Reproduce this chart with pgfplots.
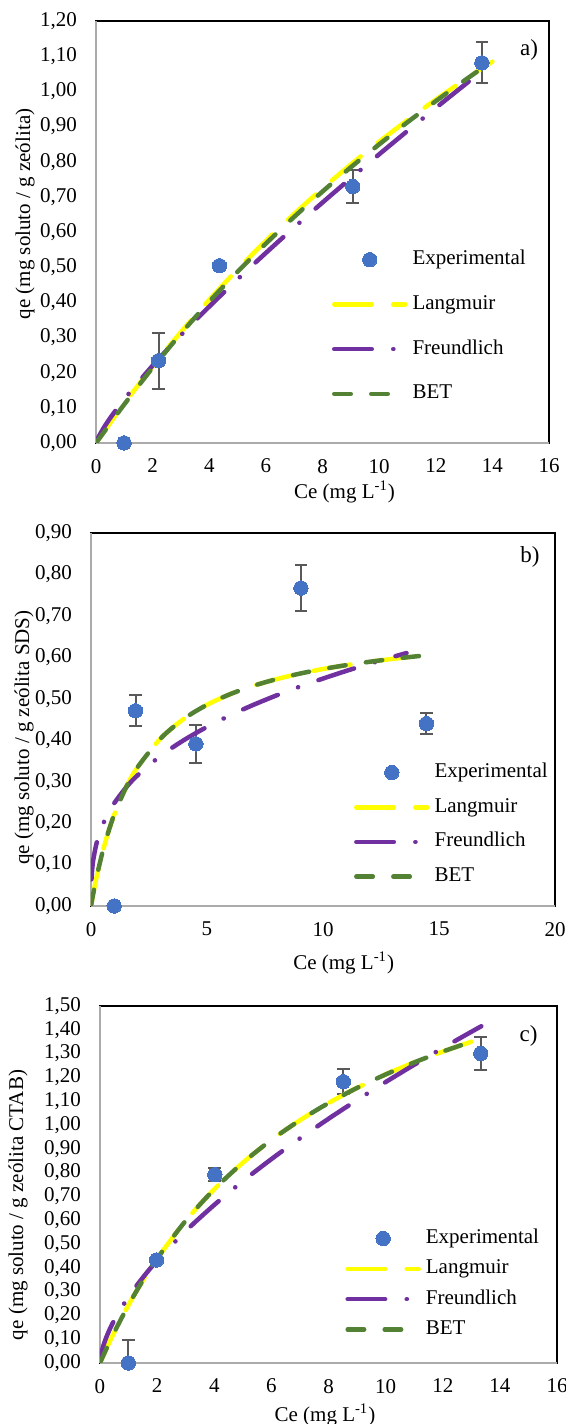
\documentclass[border=0pt]{standalone}
\usepackage{fontspec}
\setmainfont{Liberation Serif}
\usepackage{pgfplots}
\pgfplotsset{compat=1.18}
\definecolor{cexp}{HTML}{4472C4}
\definecolor{clang}{HTML}{FFFF00}
\definecolor{cfreu}{HTML}{7030A0}
\definecolor{cbet}{HTML}{548235}
\definecolor{cerr}{HTML}{595959}
\definecolor{caxis}{HTML}{ABABAB}
\pgfplotsset{
  myaxis/.style={
    scale only axis,
    axis lines*=left,
    axis line style={caxis, line width=1.1pt},
    axis background/.style={draw=black, line width=1.2pt},
    major tick length=0pt,
    minor tick num=0,
    tick style={draw=none},
    /pgf/number format/assume math mode=true,
    yticklabel style={/pgf/number format/fixed, /pgf/number format/fixed zerofill, /pgf/number format/precision=2, /pgf/number format/use comma, xshift=-6pt},
    xticklabel style={/pgf/number format/fixed, /pgf/number format/precision=0, yshift=-4.5pt},
    legend cell align=left,
    clip=true,
  },
  expstyle/.style={only marks, mark=*, mark size=3.6pt, mark options={fill=cexp, draw=cexp, line width=0pt},
    error bars/y dir=both, error bars/y explicit,
    error bars/error bar style={cerr, line width=1pt},
    error bars/error mark options={cerr, rotate=90, mark size=3.2pt, line width=1pt}},
  langstyle/.style={no marks, smooth, clang, line width=2.25pt, line cap=round, dash pattern=on 18.75pt off 10.75pt},
  freustyle/.style={no marks, smooth, cfreu, line width=2.25pt, line cap=round, dash pattern=on 18.75pt off 10.75pt on 0.1pt off 10.75pt},
  betstyle/.style={no marks, smooth, cbet, line width=2.25pt, line cap=round, dash pattern=on 8.25pt off 10.25pt},
  expleg/.style={legend image code/.code={\draw[##1] plot coordinates {(17.75pt,0pt)};}},
  lineleg/.style={legend image code/.code={\draw[##1] (0pt,0pt) -- (35.5pt,0pt);}},
}
\begin{document}
\begin{tikzpicture}[font=\fontsize{10.5}{12.6}\selectfont]
\useasboundingbox (0,0) rectangle (283pt,712pt);
% ---------------- a ----------------
\begin{axis}[myaxis,
  at={(48pt,490.5pt)}, anchor=south west,
  width=226.5pt, height=211pt,
  xmin=0, xmax=16, ymin=0, ymax=1.2,
  xtick={0,2,4,6,8,10,12,14,16},
  ytick={0,0.1,0.2,0.3,0.4,0.5,0.6,0.7,0.8,0.9,1.0,1.1,1.2},
  xlabel={Ce (mg L\textsuperscript{-1})},
  ylabel={qe (mg soluto / g zeólita)},
  xlabel style={at={(axis description cs:0.5486,-0.115)}, anchor=center},
  ylabel style={at={(axis description cs:-0.1567,0.5427)}, anchor=center},
  legend style={draw=none, fill=none, at={(axis description cs:0.521,0.458)}, anchor=north west,
    inner sep=0pt, outer sep=0pt, row sep=12.35pt, column sep=2.5pt,
    nodes={inner sep=0pt, text height=7.5pt, text depth=2.5pt}},
]
\addplot+[expstyle, expleg] coordinates {
 (0.99,0.000) +- (0,0.002)
 (2.21,0.234) +- (0,0.080)
 (4.36,0.504) +- (0,0.002)
 (9.07,0.729) +- (0,0.046)
 (13.63,1.081) +- (0,0.058)
};
\addlegendentry{Experimental}
\addplot[langstyle, lineleg] coordinates {
 (0,0) (0.5,0.0572) (1,0.1125) (2,0.2174) (3,0.3154) (4,0.4073) (5,0.4936) (6,0.5748)
 (7,0.6514) (8,0.7236) (9,0.7919) (10,0.8566) (11,0.9180) (12,0.9763) (13,1.0317) (14,1.0844)
};
\addlegendentry{Langmuir}
\addplot[freustyle, lineleg] coordinates {
 (0.0,0.0) (0.05,0.0108) (0.25,0.0401) (0.5,0.0708) (1,0.1248) (2,0.2200) (3,0.3066) (4,0.3879)
 (5,0.4655) (6,0.5405) (7,0.6130) (8,0.6838) (9,0.7529) (10,0.8208) (11,0.8873)
 (12,0.9527) (13,1.0172) (13.6,1.0556)
};
\addlegendentry{Freundlich}
\addplot[betstyle, lineleg] coordinates {
 (0,0) (0.5,0.055) (1,0.110) (2,0.214) (3,0.311) (4,0.402) (5,0.487) (6,0.567)
 (7,0.643) (8,0.715) (9,0.784) (10,0.849) (11,0.912) (12,0.972) (13,1.030) (13.8,1.075)
};
\addlegendentry{BET}
\end{axis}
% ---------------- b ----------------
\begin{axis}[myaxis,
  at={(45.5pt,259pt)}, anchor=south west,
  width=232pt, height=186.5pt,
  xmin=0, xmax=20, ymin=0, ymax=0.9,
  xtick={0,5,10,15,20},
  ytick={0,0.1,0.2,0.3,0.4,0.5,0.6,0.7,0.8,0.9},
  xlabel={Ce (mg L\textsuperscript{-1})},
  ylabel={qe (mg soluto / g zeólita SDS)},
  xlabel style={at={(axis description cs:0.5446,-0.1528)}, anchor=center},
  ylabel style={at={(axis description cs:-0.1444,0.4517)}, anchor=center},
  legend style={draw=none, fill=none, at={(axis description cs:0.567,0.3845)}, anchor=north west,
    inner sep=0pt, outer sep=0pt, row sep=7.35pt, column sep=2.5pt,
    nodes={inner sep=0pt, text height=7.5pt, text depth=2.5pt}},
]
\addplot+[expstyle, expleg] coordinates {
 (1.00,0.000) +- (0,0.002)
 (1.92,0.471) +- (0,0.037)
 (4.52,0.391) +- (0,0.045)
 (9.05,0.767) +- (0,0.056)
 (14.46,0.440) +- (0,0.025)
};
\addlegendentry{Experimental}
\addplot[langstyle, lineleg] coordinates {
 (0,0) (0.1,0.0308) (0.25,0.0721) (0.5,0.1307) (0.75,0.1792) (1,0.2200) (1.5,0.2850)
 (2,0.3343) (3,0.4042) (4,0.4515) (5,0.4855) (6,0.5112) (7,0.5313) (8,0.5474)
 (9,0.5607) (10,0.5718) (11,0.5811) (12,0.5892) (13,0.5962) (14,0.6023)
};
\addlegendentry{Langmuir}
\addplot[freustyle, lineleg] coordinates {
 (0.02,0.0643) (0.05,0.0882) (0.1,0.1121) (0.25,0.1537) (0.5,0.1953) (0.75,0.2246)
 (1,0.2480) (1.5,0.2852) (2,0.3150) (3,0.3623) (4,0.4001) (5,0.4321) (6,0.4602)
 (7,0.4853) (8,0.5082) (9,0.5293) (10,0.5488) (11,0.5672) (12,0.5845) (13,0.6009) (13.6,0.6103)
};
\addlegendentry{Freundlich}
\addplot[betstyle, lineleg] coordinates {
 (0,0) (0.1,0.0308) (0.25,0.0721) (0.5,0.1307) (0.75,0.1792) (1,0.2200) (1.5,0.2850)
 (2,0.3343) (3,0.4042) (4,0.4515) (5,0.4855) (6,0.5112) (7,0.5313) (8,0.5474)
 (9,0.5607) (10,0.5718) (11,0.5811) (12,0.5892) (13,0.5962) (14,0.6023) (14.6,0.6056)
};
\addlegendentry{BET}
\end{axis}
% ---------------- c ----------------
\begin{axis}[myaxis,
  at={(50pt,30.5pt)}, anchor=south west,
  width=228.5pt, height=178.5pt,
  xmin=0, xmax=16, ymin=0, ymax=1.5,
  xtick={0,2,4,6,8,10,12,14,16},
  ytick={0,0.1,0.2,0.3,0.4,0.5,0.6,0.7,0.8,0.9,1.0,1.1,1.2,1.3,1.4,1.5},
  xlabel={Ce (mg L\textsuperscript{-1})},
  ylabel={qe (mg soluto / g zeólita CTAB)},
  xlabel style={at={(axis description cs:0.4923,-0.1457)}, anchor=center},
  ylabel style={at={(axis description cs:-0.1794,0.4426)}, anchor=center},
  legend style={draw=none, fill=none, at={(axis description cs:0.537,0.3765)}, anchor=north west,
    inner sep=0pt, outer sep=0pt, row sep=5.15pt, column sep=2.5pt,
    nodes={inner sep=0pt, text height=7.5pt, text depth=2.5pt}},
]
\addplot+[expstyle, expleg] coordinates {
 (0.99,0.000) +- (0,0.098)
 (1.98,0.433) +- (0,0.002)
 (4.02,0.791) +- (0,0.028)
 (8.52,1.182) +- (0,0.052)
 (13.33,1.301) +- (0,0.070)
};
\addlegendentry{Experimental}
\addplot[langstyle, lineleg] coordinates {
 (0,0) (0.25,0.0667) (0.5,0.1293) (1,0.2441) (1.5,0.3467) (2,0.4388) (3,0.5977)
 (4,0.7299) (5,0.8415) (6,0.9371) (7,1.0198) (8,1.0921) (9,1.1558) (10,1.2124)
 (11,1.2630) (12,1.3085) (13,1.3497)
};
\addlegendentry{Langmuir}
\addplot[freustyle, lineleg] coordinates {
 (0.02,0.0239) (0.1,0.0656) (0.25,0.1166) (0.5,0.1801) (1,0.2783) (1.5,0.3589)
 (2,0.4300) (3,0.5545) (4,0.6642) (5,0.7640) (6,0.8567) (7,0.9437) (8,1.0261)
 (9,1.1049) (10,1.1804) (11,1.2531) (12,1.3234) (13,1.3916) (13.35,1.4150)
};
\addlegendentry{Freundlich}
\addplot[betstyle, lineleg] coordinates {
 (0,0) (0.25,0.0667) (0.5,0.1293) (1,0.2441) (1.5,0.3467) (2,0.4388) (3,0.5977)
 (4,0.7299) (5,0.8415) (6,0.9371) (7,1.0198) (8,1.0921) (9,1.1558) (10,1.2124)
 (11,1.2630) (12,1.3085) (13,1.3497)
};
\addlegendentry{BET}
\end{axis}
\node[anchor=center, font=\fontsize{11.5}{13}\selectfont] at (264.5pt,687pt) {a)};
\node[anchor=center, font=\fontsize{11.5}{13}\selectfont] at (265pt,433.5pt) {b)};
\node[anchor=center, font=\fontsize{11.5}{13}\selectfont] at (264.25pt,194pt) {c)};
\end{tikzpicture}
\end{document}
